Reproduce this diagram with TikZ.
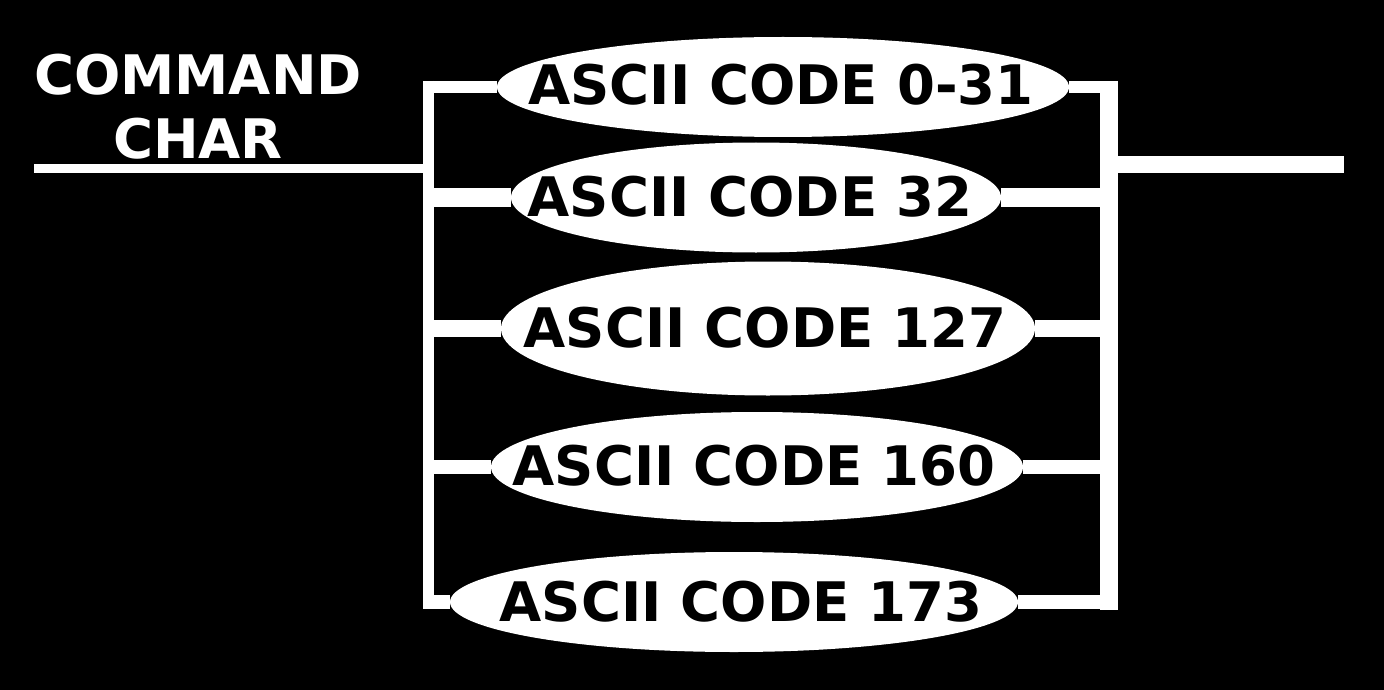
\documentclass[tikz,border=0pt]{standalone}
\usepackage{fontspec}
\setmainfont{DejaVu Sans}
\usetikzlibrary{shapes.geometric}

\tikzset{
  oval/.style={ellipse, fill=white, inner sep=0pt},
  codetext/.style={text=black, inner sep=0pt, font=\bfseries\fontsize{54.5}{63}\selectfont},
  track/.style={draw=white, line cap=butt}
}

\begin{document}
\begin{tikzpicture}[x=1pt, y=-1pt]
    % background and size
    \fill[black] (0,0) rectangle (1384,690);
    \useasboundingbox (0,0) rectangle (1384,690);

    % label of the rule
    \node[codetext, text=white, align=center, anchor=base] (cmd) at (198,158) {COMMAND\\CHAR};

    % ends of the two bars and of the main track
    \coordinate (ltop) at (428,81);
    \coordinate (lbot) at (428,608);
    \coordinate (rtop) at (1109,81);
    \coordinate (rbot) at (1109,610);
    \coordinate (start) at (34,168.5);
    \coordinate (lin) at (423,168.5);
    \coordinate (rout) at (1118,164.5);
    \coordinate (finish) at (1344,164.5);

    % draw main track and bars
    \draw[track, line width=9pt] (start) -- (lin);
    \draw[track, line width=17pt] (rout) -- (finish);
    \draw[track, line width=11pt] (ltop) -- (lbot);
    \draw[track, line width=18pt] (rtop) -- (rbot);

    % draw the choices
    \foreach \i/\cx/\cy/\w/\h/\tx/\ty/\lw/\code in {
        1/783/87/572/100/781/85/12/0-31,
        2/756/197.5/490/110/750/197/19/32,
        3/768/328.5/534/134/765/328/17/127,
        4/757/467/532/110/754/466/14/160,
        5/734/602/568/100/741/602/14/173}
    {
        \node[oval, minimum width=\w pt, minimum height=\h pt] (oval\i) at (\cx,\cy) {};
        \node[codetext] (code\i) at (\tx,\ty) {ASCII CODE \code};
        \coordinate (lb\i) at (423,\cy);
        \coordinate (rb\i) at (1118,\cy);
        \draw[track, line width=\lw pt] (lb\i) -- (oval\i.west);
        \draw[track, line width=\lw pt] (oval\i.east) -- (rb\i);
    }
\end{tikzpicture}
\end{document}
